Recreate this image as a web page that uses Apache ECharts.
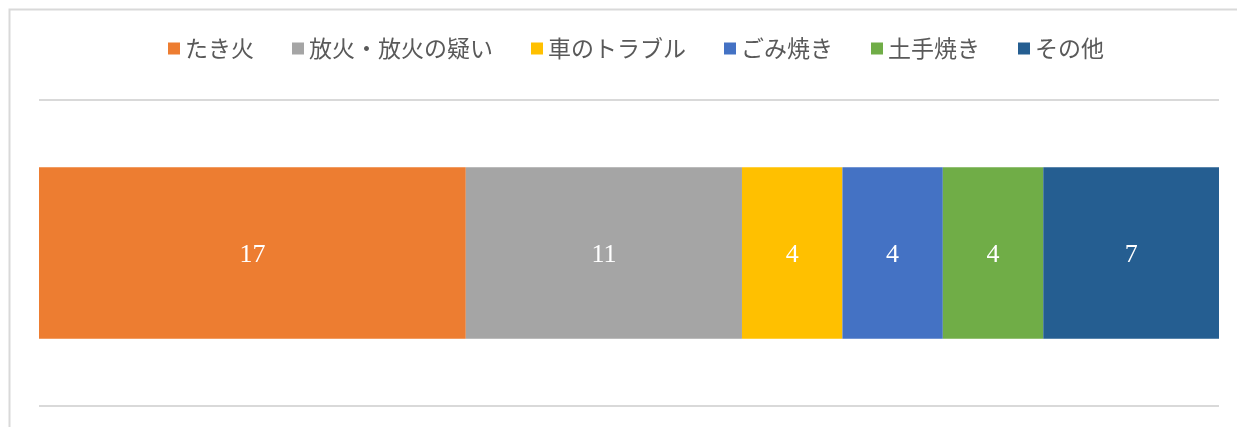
<!DOCTYPE html>
<html><head><meta charset="utf-8">
<script src="https://cdn.jsdelivr.net/npm/echarts@6/dist/echarts.min.js"></script>
<style>html,body{margin:0;padding:0;background:#fff}#c{width:1237px;height:427px}</style>
</head><body><div id="c"></div>
<script>
const categories = ['原因'];
const seriesNames = ['たき火', '放火・放火の疑い', '車のトラブル', 'ごみ焼き', '土手焼き', 'その他'];
const seriesValues = [17, 11, 4, 4, 4, 7];
const colors = ['#ED7D31', '#A5A5A5', '#FFC000', '#4472C4', '#70AD47', '#255E91'];

const total = seriesValues.reduce((a, b) => a + b, 0);
const chart = echarts.init(document.getElementById('c'));
chart.setOption({
  animation: false,
  color: colors,
  graphic: [{
    type: 'rect', shape: { x: 9.5, y: 9.5, width: 1260, height: 440 },
    style: { fill: 'none', stroke: '#d9d9d9', lineWidth: 2 }, silent: true, z: -1
  }],
  legend: {
    top: 32, left: 163, icon: 'rect', itemWidth: 12, itemHeight: 12, itemGap: 38,
    textStyle: { fontFamily: 'Noto Sans CJK JP', fontSize: 23, color: '#595959', padding: [0, 0, 0, 0] }
  },
  grid: { left: 39, right: 18, top: 100, bottom: 21 },
  xAxis: { type: 'value', min: 0, max: total, show: false },
  yAxis: {
    type: 'category', data: categories,
    axisLine: { show: false }, axisTick: { show: false }, axisLabel: { show: false },
    splitLine: { show: true, lineStyle: { color: '#d9d9d9', width: 2 } }
  },
  series: seriesNames.map((n, i) => ({
    name: n, type: 'bar', stack: 'all', barWidth: '56%',
    data: [seriesValues[i]],
    label: { show: true, position: 'inside', offset: [0, 2], color: '#fff', fontFamily: 'Liberation Serif', fontSize: 26 }
  }))
});
</script></body></html>
